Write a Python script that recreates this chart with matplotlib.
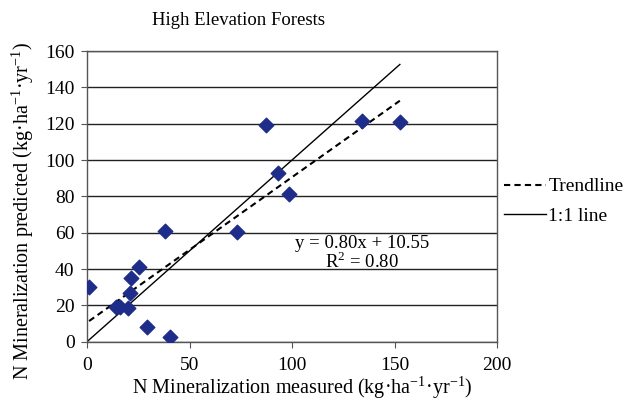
import matplotlib
matplotlib.use("Agg")
import matplotlib.pyplot as plt
import numpy as np

plt.rcParams['font.family'] = ['Liberation Serif', 'DejaVu Serif']
plt.rcParams['mathtext.fontset'] = 'custom'
plt.rcParams['mathtext.rm'] = 'Liberation Serif'

measured = [1.0, 14.0, 16.2, 20.0, 20.8, 21.6, 25.3, 29.2, 37.8, 40.6, 73.2, 87.3, 93.2, 98.4, 134.1, 152.6]
predicted = [29.9, 19.3, 19.3, 18.4, 27.0, 34.9, 40.9, 8.3, 61.1, 2.8, 60.5, 119.3, 92.7, 81.3, 121.6, 120.9]
slope = 0.80
intercept = 10.55
r2 = 0.80
xticks = [0, 50, 100, 150, 200]
yticks = [0, 20, 40, 60, 80, 100, 120, 140, 160]

fig = plt.figure(figsize=(6.27, 4.0), dpi=100)
ax = fig.add_axes([0.1388, 0.1458, 0.6539, 0.7267])

ax.set_xlim(0, 200)
ax.set_ylim(0, 160)
ax.set_xticks(xticks)
ax.set_yticks(yticks)
ax.yaxis.grid(True, color='#222222', linewidth=1.0)
ax.set_axisbelow(True)
for s in ax.spines.values():
    s.set_color('#555555')
    s.set_linewidth(1.0)
ax.tick_params(axis='both', labelsize=14, length=4, color='#555555')
ax.tick_params(axis='x', pad=7)
ax.tick_params(axis='y', pad=5)

xmin, xmax = min(measured), max(measured)
xs = np.array([xmin, xmax])
ax.plot([0, xmax], [0, xmax], color='black', linewidth=1.0, label='1:1 line', zorder=2)
ax.plot(xs, slope * xs + intercept, color='black', linestyle=(0, (3, 2)), linewidth=1.5, label='Trendline', zorder=2)

ax.scatter(measured, predicted, marker='D', s=55, color='#1f2d8a', edgecolors='#1f2d8a', zorder=3)

ax.text(134, 48.5, 'y = %.2fx + %.2f\nR$^{2}$ = %.2f' % (slope, intercept, r2),
        ha='center', va='center', fontsize=13.5, linespacing=0.95)

handles, labels = ax.get_legend_handles_labels()
fig.legend([handles[1], handles[0]], [labels[1], labels[0]], loc='upper left',
           bbox_to_anchor=(0.791, 0.575), frameon=False, fontsize=14,
           handlelength=2.15, handletextpad=0.15, labelspacing=0.6, borderaxespad=0)

fig.text(0.38, 0.948, 'High Elevation Forests', ha='center', va='center', fontsize=13.5)
ax.set_xlabel('N Mineralization measured (kg·ha$^{-1}$·yr$^{-1}$)', fontsize=14.5)
ax.set_ylabel('N Mineralization predicted (kg·ha$^{-1}$·yr$^{-1}$)', fontsize=14.5)
ax.xaxis.set_label_coords(0.524, -0.112)
ax.yaxis.set_label_coords(-0.124, 0.45)

fig.savefig('out.png', dpi=100)
